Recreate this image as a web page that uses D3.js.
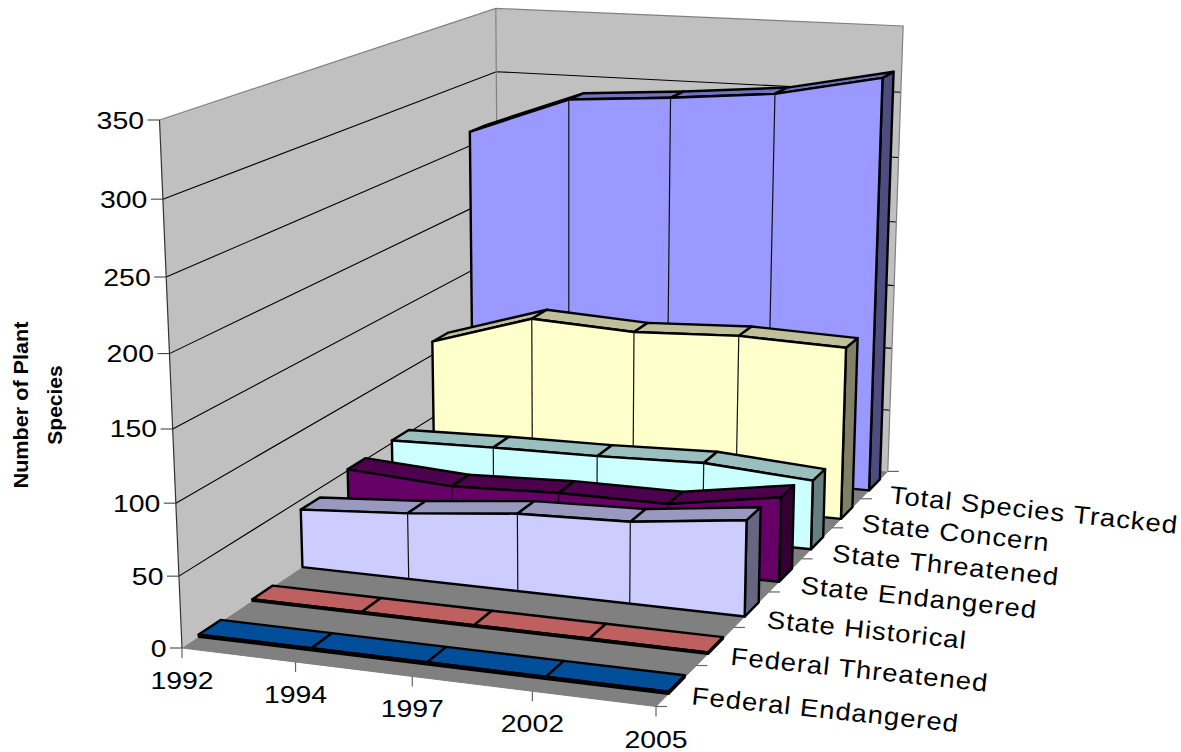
<!DOCTYPE html>
<html>
<head>
<meta charset="utf-8">
<script src="https://cdnjs.cloudflare.com/ajax/libs/d3/7.8.5/d3.min.js"></script>
<style>
  body { margin: 0; background: #fff; }
  text { font-family: "Liberation Sans", Arial, sans-serif; fill: #000; }
</style>
</head>
<body>
<div id="chart"></div>
<script>
const years = ['1992', '1994', '1997', '2002', '2005'];
const seriesNames = ['Federal Endangered', 'Federal Threatened', 'State Historical', 'State Endangered',
    'State Threatened', 'State Concern', 'Total Species Tracked'];
const federalEndangered = [1.5, 1.5, 1.5, 1.5, 1.5];
const federalThreatened = [1, 1, 1, 1, 1];
const stateHistorical = [43, 48.5, 56.5, 59, 68.5];
const stateEndangered = [51, 46, 49, 49, 62];
const stateThreatened = [52, 54, 55, 57.5, 52];
const stateConcern = [110.5, 135, 131, 134.5, 132];
const totalTracked = [261, 290.5, 296, 303, 319];
const seriesValues = [federalEndangered, federalThreatened, stateHistorical, stateEndangered,
    stateThreatened, stateConcern, totalTracked];
const seriesColors = ['#0066CC', '#FF8080', '#CCCCFF', '#660066', '#CCFFFF', '#FFFFCC', '#9999FF'];
const valueTicks = [0, 50, 100, 150, 200, 250, 300, 350];

const width = 1181, height = 752;

const svg = d3.select('#chart').append('svg')
    .attr('width', width)
    .attr('height', height)
    .style('display', 'block');

const tScale = d3.scalePoint().domain(years).range([0, 1]);
const sScale = d3.scaleBand().domain(seriesNames).range([0, 1]).paddingInner(0.6).paddingOuter(0.3);
const vScale = d3.scaleLinear().domain([0, 350]).range([0, 1]);

// perspective of the box: images of the origin and of the three unit corners, plus their w
const O = [182, 648], PX = [656, 706.5], PY = [499, 435], PZ = [159.5, 120];
const wx = 0.945, wy = 1.252, wz = 0.945;

const project = (t, s, z) => {
    const den = 1 + t * (wx - 1) + s * (wy - 1) + z * (wz - 1);
    return [0, 1].map(k => (O[k] + t * (wx * PX[k] - O[k]) + s * (wy * PY[k] - O[k]) + z * (wz * PZ[k] - O[k])) / den);
};

const line = d3.line();
const closed = d3.line().curve(d3.curveLinearClosed);

const poly = (pts, fill, stroke, sw) => svg.append('path')
    .attr('d', closed(pts))
    .attr('fill', fill)
    .attr('stroke', stroke)
    .attr('stroke-width', sw)
    .attr('stroke-linejoin', 'round');

const seg = (pts, stroke, sw) => svg.append('path')
    .attr('d', line(pts))
    .attr('fill', 'none')
    .attr('stroke', stroke)
    .attr('stroke-width', sw);

// walls and floor
poly([project(0, 0, 0), project(0, 1, 0), project(0, 1, 1), project(0, 0, 1)], '#C0C0C0', 'none', 0);
poly([project(0, 1, 0), project(1, 1, 0), project(1, 1, 1), project(0, 1, 1)], '#C0C0C0', 'none', 0);
poly([project(0, 0, 0), project(1, 0, 0), project(1, 1, 0), project(0, 1, 0)], '#808080', 'none', 0);

valueTicks.filter(v => v > 0 && v < 350).forEach(v => {
    const z = vScale(v);
    seg([project(0, 0, z), project(0, 1, z), project(1, 1, z)], '#000', 1.1);
});
seg([project(0, 0, 1), project(0, 1, 1), project(1, 1, 1), project(1, 1, 0)], '#808080', 1.2);
seg([project(0, 1, 0), project(0, 1, 1)], '#808080', 1.2);
seg([project(0, 0, 0), project(1, 0, 0), project(1, 1, 0)], '#808080', 1);

// value axis
seg([project(0, 0, 0), project(0, 0, 1)], '#333', 1.2);
valueTicks.forEach(v => {
    const p = project(0, 0, vScale(v));
    seg([[p[0] - 12, p[1]], p], '#333', 1);
    svg.append('text')
        .attr('transform', `translate(${p[0] - 15.5},${p[1] + 8.5}) scale(1.16,1)`)
        .attr('text-anchor', 'end')
        .style('font-size', '24.5px')
        .text(v);
});

// year axis
years.forEach(y => {
    const p = project(tScale(y), 0, 0);
    seg([p, [p[0], p[1] + 10]], '#666', 1.2);
    svg.append('text')
        .attr('transform', `translate(${p[0]},${p[1] + 41}) scale(1.16,1)`)
        .attr('text-anchor', 'middle')
        .style('font-size', '24.5px')
        .text(y);
});

// series axis
const depthEdges = d3.range(seriesNames.length + 1).map(i => i / seriesNames.length);
depthEdges.forEach(s => {
    const p = project(1, s, 0);
    seg([p, [p[0] + 11, p[1]]], '#666', 1.2);
});
seriesNames.forEach(name => {
    const p = project(1, sScale(name) + sScale.bandwidth() / 2, 0);
    svg.append('text')
        .attr('transform', `translate(${p[0] + 14.5},${p[1] + 18.5}) rotate(6) scale(1.1,1)`)
        .style('font-size', '25px')
        .style('letter-spacing', '0.9px')
        .text(name);
});

// back to front, so nearer series cover the ones behind
const shade = (c, f) => {
    const r = d3.rgb(c);
    return d3.rgb(r.r * f, r.g * f, r.b * f).formatHex();
};

d3.range(seriesNames.length - 1, -1, -1).forEach(i => {
    const values = seriesValues[i];
    const color = seriesColors[i];
    const front = sScale(seriesNames[i]);
    const back = front + sScale.bandwidth();
    const ts = years.map(y => tScale(y));
    const zs = values.map(v => vScale(v));
    const last = ts.length - 1;

    // right side
    poly([project(1, front, 0), project(1, back, 0), project(1, back, zs[last]), project(1, front, zs[last])],
        shade(color, 0.5), '#000', 2.4);

    // top faces
    d3.range(last).forEach(j => {
        poly([project(ts[j], front, zs[j]), project(ts[j + 1], front, zs[j + 1]),
            project(ts[j + 1], back, zs[j + 1]), project(ts[j], back, zs[j])],
            shade(color, 0.75), '#000', 2.4);
    });

    // front face
    const outline = ts.map((t, j) => project(t, front, zs[j]));
    poly([project(0, front, 0), ...outline, project(1, front, 0)], color, '#000', 2.4);
    d3.range(1, last).forEach(j => {
        seg([project(ts[j], front, 0), project(ts[j], front, zs[j])], '#111', 1.2);
    });
});

// axis title
const title = svg.append('g').style('font-size', '21px').style('font-weight', 'bold');
title.append('text')
    .attr('transform', 'translate(28,405) rotate(-90) scale(1.03,1)')
    .attr('text-anchor', 'middle')
    .text('Number of Plant');
title.append('text')
    .attr('transform', 'translate(62,405) rotate(-90)')
    .attr('text-anchor', 'middle')
    .text('Species');
</script>
</body>
</html>
